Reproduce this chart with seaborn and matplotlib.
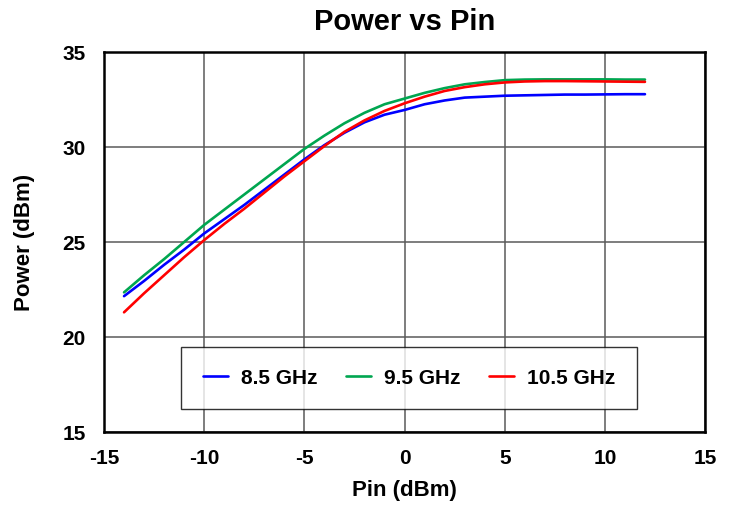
import matplotlib
matplotlib.use("Agg")
import matplotlib.pyplot as plt
import seaborn as sns
import pandas as pd

pin = list(range(-14, 13))

p_85 = [22.15, 22.95, 23.8, 24.6, 25.45, 26.2, 26.95, 27.75, 28.55, 29.35,
        30.1, 30.75, 31.3, 31.7, 31.95, 32.25, 32.45, 32.6, 32.65, 32.7,
        32.72, 32.74, 32.76, 32.76, 32.77, 32.78, 32.78]
p_95 = [22.35, 23.25, 24.1, 25.0, 25.9, 26.7, 27.5, 28.3, 29.1, 29.9,
        30.6, 31.25, 31.8, 32.25, 32.55, 32.85, 33.1, 33.3, 33.42, 33.52,
        33.55, 33.56, 33.56, 33.56, 33.56, 33.55, 33.55]
p_105 = [21.3, 22.3, 23.25, 24.2, 25.1, 25.95, 26.75, 27.6, 28.45, 29.25,
         30.05, 30.8, 31.4, 31.9, 32.3, 32.65, 32.95, 33.15, 33.3, 33.4,
         33.45, 33.47, 33.47, 33.46, 33.45, 33.44, 33.43]

freqs = ["8.5 GHz", "9.5 GHz", "10.5 GHz"]
colors = ["#0000ff", "#00a650", "#ff0000"]

df = pd.concat([
    pd.DataFrame({"Pin": pin, "Power": vals, "freq": f})
    for f, vals in zip(freqs, [p_85, p_95, p_105])
])

sns.set_style("white")
plt.rcParams["font.family"] = ["Liberation Sans", "DejaVu Sans"]
plt.rcParams["font.weight"] = "bold"
plt.rcParams["axes.unicode_minus"] = False
for k in ["text.color", "axes.labelcolor", "xtick.color", "ytick.color"]:
    plt.rcParams[k] = "black"

fig = plt.figure(figsize=(7.36, 5.08), dpi=100)
ax = fig.add_axes([0.1413, 0.1496, 0.8167, 0.748])

sns.lineplot(data=df, x="Pin", y="Power", hue="freq", palette=colors,
             hue_order=freqs, linewidth=1.9, ax=ax)

ax.set_xlim(-15, 15)
ax.set_ylim(15, 35)
ax.set_xticks(range(-15, 16, 5))
ax.set_yticks(range(15, 36, 5))
ax.grid(True, color="#5a5a5a", linewidth=1.1)
ax.tick_params(axis="x", length=0, labelsize=15, pad=12)
ax.tick_params(axis="y", length=0, labelsize=15, pad=13)
for lab in ax.get_xticklabels() + ax.get_yticklabels():
    lab.set_fontweight("bold")
for s in ax.spines.values():
    s.set_color("black")
    s.set_linewidth(1.8)

ax.set_xlabel("Pin (dBm)", fontsize=16, fontweight="bold", labelpad=9)
ax.set_ylabel("Power (dBm)", fontsize=16, fontweight="bold", labelpad=20)
ax.set_title("Power vs Pin", fontsize=21, fontweight="bold", pad=16)

leg = ax.legend(loc="center", bbox_to_anchor=(0.5075, 0.142), ncol=3,
                frameon=True, fancybox=False, fontsize=15, handlelength=1.2,
                handletextpad=0.6, columnspacing=1.4, borderpad=1.05,
                borderaxespad=0)
leg.get_frame().set_edgecolor("black")
leg.get_frame().set_linewidth(1.0)
for t in leg.get_texts():
    t.set_fontweight("bold")

fig.savefig("out.png", dpi=100)
